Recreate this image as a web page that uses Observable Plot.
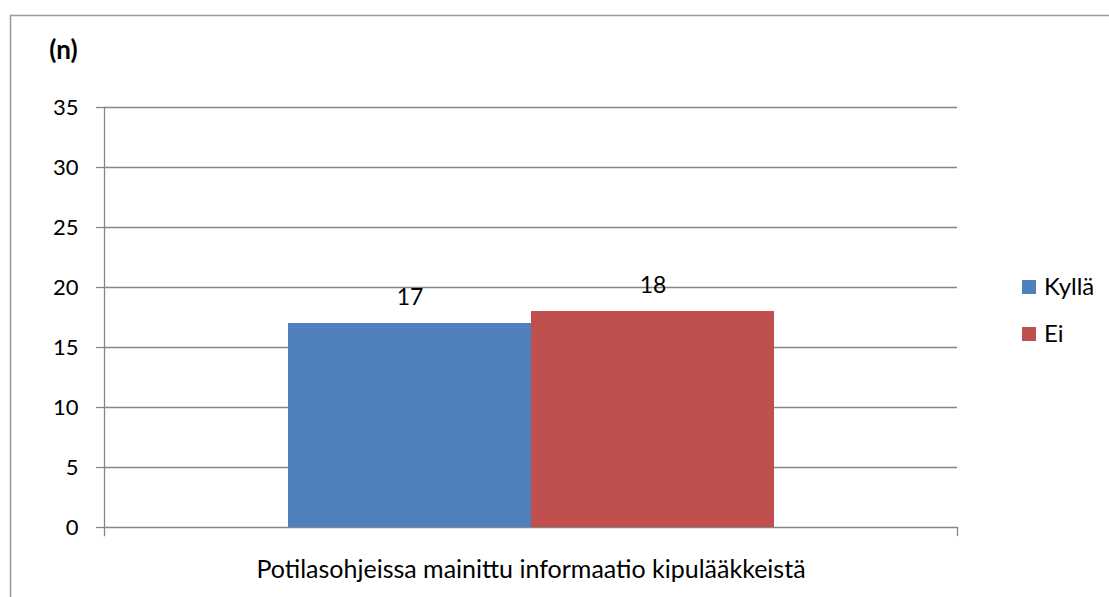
<!DOCTYPE html>
<html>
<head>
<meta charset="utf-8">
<script src="https://cdn.jsdelivr.net/npm/d3@7"></script>
<script src="https://cdn.jsdelivr.net/npm/@observablehq/plot@0.6"></script>
<style>
  html, body { margin: 0; padding: 0; background: #fff; }
  #chart { width: 1109px; height: 597px; overflow: hidden; }
</style>
</head>
<body>
<div id="chart"></div>
<script>
const category = "Potilasohjeissa mainittu informaatio kipulääkkeistä";
const series = ["Kyllä", "Ei"];
const values = [17, 18];
const colors = ["#4F81BD", "#C0504D"];
const yTicks = [0, 5, 10, 15, 20, 25, 30, 35];
const yLabel = "(n)";

const data = series.map((s, i) => ({category, series: s, value: values[i]}));
const FONT = "Lato, 'Open Sans', sans-serif";
const gray = "#868686";

const plot = Plot.plot({
  width: 1109,
  height: 597,
  marginTop: 107,
  marginLeft: 104,
  marginRight: 152,
  marginBottom: 70,
  style: {fontFamily: FONT, fontSize: "22px", color: "#000", background: "#fff", overflow: "visible"},
  fx: {domain: [category], padding: 0, label: null},
  x: {domain: series, paddingInner: 0, paddingOuter: 0.75, axis: null},
  y: {domain: [0, 35], label: null},
  color: {domain: series, range: colors},
  marks: [
    Plot.gridY(yTicks, {stroke: gray, strokeOpacity: 1, strokeWidth: 1.3}),
    Plot.axisY(yTicks, {tickSize: 8, tickPadding: 18, stroke: gray, strokeOpacity: 1, strokeWidth: 1.3, fill: "#000", label: null, fontSize: 22}),
    Plot.axisFx({anchor: "bottom", tickSize: 0, tickPadding: 33, label: null, fill: "#000", fontSize: 25}),
    Plot.barY(data, {fx: "category", x: "series", y: "value", fill: "series"}),
    Plot.text(data, {fx: "category", x: "series", y: "value", text: d => String(d.value), lineAnchor: "bottom", dy: -19, fill: "#000", fontSize: 23}),
    Plot.frame({anchor: "left", stroke: gray, strokeWidth: 1.3, insetBottom: -8}),
    Plot.frame({anchor: "right", stroke: gray, strokeWidth: 1.3, insetTop: 420, insetBottom: -8}),
    Plot.text([yLabel], {frameAnchor: "top-left", dx: -41, dy: -57, text: d => d, fontWeight: "bold", fontSize: 26, fill: "#000", textAnchor: "middle", lineAnchor: "middle"})
  ]
});

const svg = d3.select(plot);
// outer chart-area border (left and top edges visible)
svg.append("line").attr("x1", 10.5).attr("x2", 10.5).attr("y1", 15).attr("y2", 597)
  .attr("stroke", "#999").attr("stroke-width", 1.5);
svg.append("line").attr("x1", 10).attr("x2", 1109).attr("y1", 15.5).attr("y2", 15.5)
  .attr("stroke", "#999").attr("stroke-width", 1.5);

// legend
const lg = svg.append("g").attr("font-family", FONT).attr("font-size", 24).attr("text-anchor", "start");
series.forEach((s, i) => {
  const cy = 287 + i * 47;
  lg.append("rect").attr("x", 1022).attr("y", cy - 7).attr("width", 14).attr("height", 14).attr("fill", colors[i]);
  lg.append("text").attr("x", 1044).attr("y", cy).attr("dy", "0.35em").attr("fill", "#000").text(s);
});

document.getElementById("chart").appendChild(plot);
</script>
</body>
</html>
